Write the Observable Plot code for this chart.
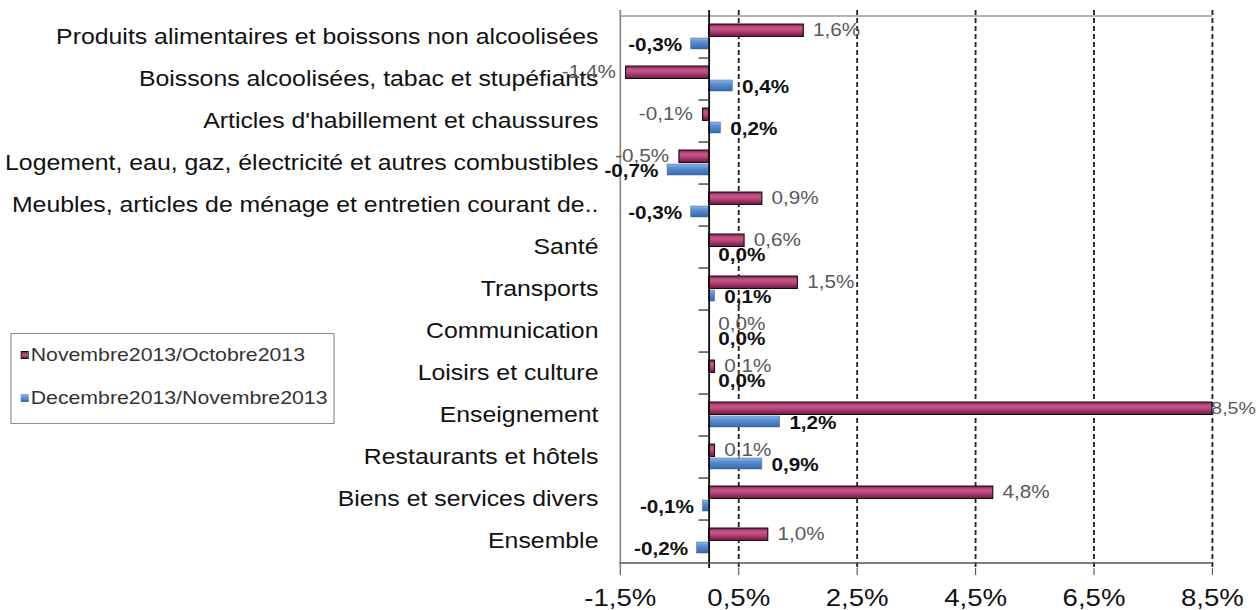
<!DOCTYPE html>
<html>
<head>
<meta charset="utf-8">
<script src="https://cdn.jsdelivr.net/npm/d3@7"></script>
<script src="https://cdn.jsdelivr.net/npm/@observablehq/plot@0.6"></script>
<style>
  html, body { margin: 0; padding: 0; background: #fff; }
  #wrap { position: relative; width: 1095px; height: 610px; transform-origin: 0 0; font-family: "Liberation Sans", Arial, sans-serif; }
  #legend { position: absolute; left: 8.7px; top: 333px; width: 282px; height: 91px; border: 1px solid #8c8c8c; background: #fff; box-sizing: border-box; }
  .item { position: absolute; left: 8px; display: flex; align-items: center; font-size: 18.5px; color: #333; white-space: nowrap; }
  .sw { width: 7px; height: 8px; margin-right: 2px; box-sizing: border-box; }
</style>
</head>
<body>
<div id="wrap"><div id="legend"></div></div>
<script>
const categories = [
  "Produits alimentaires et boissons non alcoolisées",
  "Boissons alcoolisées, tabac et stupéfiants",
  "Articles d'habillement et chaussures",
  "Logement, eau, gaz, électricité et autres combustibles",
  "Meubles, articles de ménage et entretien courant de..",
  "Santé",
  "Transports",
  "Communication",
  "Loisirs et culture",
  "Enseignement",
  "Restaurants et hôtels",
  "Biens et services divers",
  "Ensemble"
];
const novOct = [1.6, -1.4, -0.1, -0.5, 0.9, 0.6, 1.5, 0.0, 0.1, 8.5, 0.1, 4.8, 1.0];
const decNov = [-0.3, 0.4, 0.2, -0.7, -0.3, 0.0, 0.1, 0.0, 0.0, 1.2, 0.9, -0.1, -0.2];
const seriesNames = ["Novembre2013/Octobre2013", "Decembre2013/Novembre2013"];
const xTicks = [-1.5, 0.5, 2.5, 4.5, 6.5, 8.5];
const gridTicks = [0.5, 2.5, 4.5, 6.5, 8.5];

const S = 1259 / 1095;
const W = 1095, H = 610, mT = 10, mB = 42;
const bw = (H - mT - mB) / categories.length;
const fmt = v => v.toFixed(1).replace(".", ",") + "%";
const xMax = 8.5;

const nov = categories.map((c, i) => ({category: c, value: novOct[i]}));
const dec = categories.map((c, i) => ({category: c, value: decNov[i]}));

const chart = Plot.plot({
  width: W, height: H,
  marginLeft: 539, marginRight: 41, marginTop: mT, marginBottom: mB,
  style: {fontFamily: "'Liberation Sans', Arial, sans-serif", background: "#fff", overflow: "visible"},
  x: {domain: [-1.5, xMax]},
  y: {domain: categories, padding: 0},
  marks: [
    Plot.ruleY([categories[0]], {x1: -1.5, x2: 8.5, dy: -bw / 2, stroke: "#9a9a9a", strokeWidth: 1.5}),
    Plot.ruleX([-1.5], {stroke: "#8a8a8a", strokeWidth: 1.5}),
    Plot.ruleX(gridTicks, {stroke: "#222", strokeWidth: 1.6, strokeDasharray: "5,3"}),
    Plot.ruleY(categories.slice(1), {x1: -0.17, x2: 0, dy: -bw / 2, stroke: "#222", strokeWidth: 1.2}),
    Plot.barX(nov, {x: "value", y: "category", insetTop: 8, insetBottom: 21.5, fill: "url(#gradNov)", stroke: "#1c0a12", strokeWidth: 1}),
    Plot.barX(dec, {x: "value", y: "category", insetTop: 22, insetBottom: 9, fill: "url(#gradDec)", stroke: "#3b68a3", strokeWidth: 0.5}),
    Plot.ruleX([0], {stroke: "#111", strokeWidth: 1.6}),
    Plot.ruleY([categories[categories.length - 1]], {x1: -1.5, x2: 8.5, dy: bw / 2, stroke: "#555", strokeWidth: 1.5}),
    Plot.axisX({ticks: xTicks, tickFormat: fmt, tickSize: 7, tickPadding: 13, fontSize: 24, label: null, stroke: "#555", fill: "#111"}),
    Plot.axisY({tickSize: 0, tickPadding: 19, fontSize: 21.6, label: null, fill: "#111"}),
    Plot.text(nov, {filter: d => d.value >= 0 && d.value < xMax - 1, x: "value", y: "category", text: d => fmt(d.value), textAnchor: "start", dx: 8, dy: -7, fontSize: 18, fill: "#595959"}),
    Plot.text(nov, {filter: d => d.value >= xMax - 1, x: "value", y: "category", text: d => fmt(d.value), textAnchor: "start", dx: -1, dy: -7, fontSize: 17, fill: "#595959"}),
    Plot.text(nov, {filter: d => d.value < 0, x: "value", y: "category", text: d => fmt(d.value), textAnchor: "end", dx: -9, dy: -7, fontSize: 18, fill: "#595959"}),
    Plot.text(dec, {filter: d => d.value >= 0, x: "value", y: "category", text: d => fmt(d.value), textAnchor: "start", dx: 8, dy: 8, fontSize: 18, fontWeight: "bold", fill: "#111"}),
    Plot.text(dec, {filter: d => d.value < 0, x: "value", y: "category", text: d => fmt(d.value), textAnchor: "end", dx: -8, dy: 8, fontSize: 18, fontWeight: "bold", fill: "#111"})
  ]
});

const ns = "http://www.w3.org/2000/svg";
const defs = document.createElementNS(ns, "defs");
function grad(id, stops) {
  const g = document.createElementNS(ns, "linearGradient");
  g.setAttribute("id", id);
  g.setAttribute("x1", "0"); g.setAttribute("y1", "0");
  g.setAttribute("x2", "0"); g.setAttribute("y2", "1");
  for (const [o, c] of stops) {
    const s = document.createElementNS(ns, "stop");
    s.setAttribute("offset", o);
    s.setAttribute("stop-color", c);
    g.appendChild(s);
  }
  defs.appendChild(g);
}
grad("gradNov", [[0, "#7a2249"], [0.3, "#c6568a"], [0.55, "#b9467a"], [1, "#6a183d"]]);
grad("gradDec", [[0, "#8fb6e6"], [0.35, "#5a8fd3"], [1, "#3767a8"]]);
chart.insertBefore(defs, chart.firstChild);

const wrap = document.getElementById("wrap");
wrap.insertBefore(chart, wrap.firstChild);
wrap.style.transform = `scaleX(${S})`;

const legend = document.getElementById("legend");
const swatches = [
  {bg: "linear-gradient(#7a2249, #c6568a, #6a183d)", border: "1px solid #111"},
  {bg: "linear-gradient(#8fb6e6, #3767a8)", border: "none"}
];
seriesNames.forEach((name, i) => {
  const it = document.createElement("div");
  it.className = "item";
  it.style.top = (i === 0 ? 10 : 53) + "px";
  const sw = document.createElement("span");
  sw.className = "sw";
  sw.style.background = swatches[i].bg;
  sw.style.border = swatches[i].border;
  const tx = document.createElement("span");
  tx.textContent = name;
  it.appendChild(sw); it.appendChild(tx);
  legend.appendChild(it);
});
</script>
</body>
</html>
